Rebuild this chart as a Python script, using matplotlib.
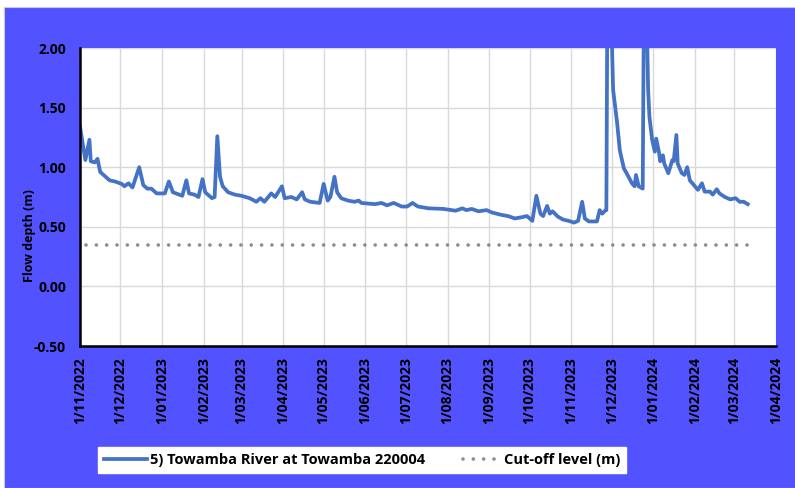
import matplotlib
matplotlib.use("Agg")
from matplotlib import pyplot as plt
from matplotlib.patches import Rectangle
import numpy as np
import pandas as pd

plt.rcParams['font.family'] = ['Open Sans', 'DejaVu Sans']
plt.rcParams['font.weight'] = 'bold'

start = pd.Timestamp("2022-11-01")
end = pd.Timestamp("2024-04-01")

# days after 1/11/2022 and flow depth (m)
day = [0, 4, 7, 8, 11, 13, 15, 19, 22, 26, 31, 33, 36, 39, 44, 47, 50, 53, 57,
       63, 66, 69, 76, 79, 81, 85, 88, 91, 93, 98, 100, 102, 104, 106, 110,
       115, 120, 123, 126, 131, 134, 137, 142, 145, 150, 152, 157, 161, 165,
       167, 171, 178, 181, 184, 186, 189, 191, 194, 199, 204, 207, 209, 219,
       224, 228, 233, 239, 243, 247, 251, 259, 270, 279, 284, 287, 291, 296,
       302, 306, 313, 318, 323, 328, 332, 336, 339, 342, 344, 347, 349, 351,
       355, 359, 363, 367, 370, 373, 375, 378, 384, 386, 388, 390, 391, 392,
       393, 396, 399, 401, 404, 406, 410, 412, 413, 415, 418, 419, 420, 422,
       423, 425, 427, 428, 430, 431, 433, 434, 437, 440, 441, 443, 444, 447,
       449, 451, 453, 456, 459, 462, 464, 468, 470, 473, 475, 479, 483, 487,
       490, 493, 496]
depth = [1.34, 1.06, 1.23, 1.05, 1.04, 1.07, 0.96, 0.92, 0.89, 0.88, 0.86, 0.84,
         0.865, 0.83, 1.00, 0.85, 0.82, 0.82, 0.78, 0.78, 0.88, 0.79, 0.76, 0.89,
         0.78, 0.77, 0.75, 0.90, 0.79, 0.74, 0.75, 1.26, 0.92, 0.84, 0.79, 0.77,
         0.76, 0.75, 0.74, 0.71, 0.74, 0.71, 0.78, 0.75, 0.84, 0.74, 0.75, 0.73,
         0.79, 0.73, 0.71, 0.70, 0.86, 0.72, 0.75, 0.92, 0.79, 0.74, 0.72, 0.71,
         0.72, 0.70, 0.69, 0.70, 0.68, 0.70, 0.67, 0.67, 0.70, 0.67, 0.655, 0.65,
         0.635, 0.655, 0.64, 0.65, 0.63, 0.64, 0.62, 0.60, 0.59, 0.57, 0.58, 0.59,
         0.55, 0.76, 0.61, 0.59, 0.675, 0.61, 0.63, 0.585, 0.56, 0.55, 0.535,
         0.55, 0.71, 0.57, 0.545, 0.545, 0.64, 0.61, 0.635, 0.64, 3.1, 3.0, 1.65,
         1.37, 1.14, 0.99, 0.95, 0.865, 0.84, 0.935, 0.84, 0.82, 2.6, 2.9, 1.65,
         1.42, 1.23, 1.13, 1.24, 1.13, 1.05, 1.10, 1.03, 0.95, 1.06, 1.05, 1.27,
         1.03, 0.95, 0.935, 1.00, 0.89, 0.85, 0.81, 0.865, 0.795, 0.795, 0.77,
         0.815, 0.78, 0.75, 0.73, 0.74, 0.71, 0.71, 0.69]
cutoff = 0.35

dates = start + pd.to_timedelta(day, unit="D")
cut_dates = [start, dates[-1]]

fig = plt.figure(figsize=(7.95, 4.88), dpi=100, facecolor="white")
fig.patches.append(Rectangle((4 / 795, 0), 1, 1 - 7 / 488, transform=fig.transFigure,
                             facecolor="#5252ff", edgecolor="#c8c8e0", lw=0.8, zorder=-1))

ax = fig.add_axes([80 / 795, 142 / 488, 696 / 795, 298 / 488])
ax.set_facecolor("white")

ax.plot(dates, depth, color="#4472c4", lw=2.7, solid_joinstyle="round",
        label="5) Towamba River at Towamba 220004")
ax.plot(cut_dates, [cutoff, cutoff], color="#8c8c8c", lw=2.6,
        linestyle=(1.2, (0.01, 2.85)), dash_capstyle="round",
        label="Cut-off level (m)")

ax.set_xlim(start, end)
ax.set_ylim(-0.5, 2.0)
ax.set_yticks(np.arange(-0.5, 2.01, 0.5))
ax.yaxis.set_major_formatter(plt.FormatStrFormatter("%.2f"))
months = pd.date_range(start, end, freq="MS")
ax.set_xticks(months)
ax.set_xticklabels([f"{d.day}/{d.month:02d}/{d.year}" for d in months],
                   rotation=90)
ax.grid(True, color="#d9d9d9", lw=1)
ax.set_axisbelow(True)
ax.tick_params(length=0, labelsize=10)
ax.tick_params(axis="y", pad=10)
ax.tick_params(axis="x", pad=8)
for s in ["top", "right"]:
    ax.spines[s].set_visible(False)
for s in ["left", "bottom"]:
    ax.spines[s].set_color("black")
    ax.spines[s].set_linewidth(1.8)

fig.text(30 / 795, 1 - 236 / 488, "Flow depth (m)", rotation=90,
         ha="center", va="center", fontsize=9, fontweight="bold")

leg = fig.legend(loc="center", bbox_to_anchor=(362 / 795, 28 / 488), ncol=2,
                 frameon=True, fancybox=False, edgecolor="white",
                 facecolor="white", framealpha=1, fontsize=10.5,
                 handlelength=3.0, handletextpad=0.2, columnspacing=2.2,
                 borderpad=0.4)

fig.savefig("out.png", dpi=100, facecolor=fig.get_facecolor())
